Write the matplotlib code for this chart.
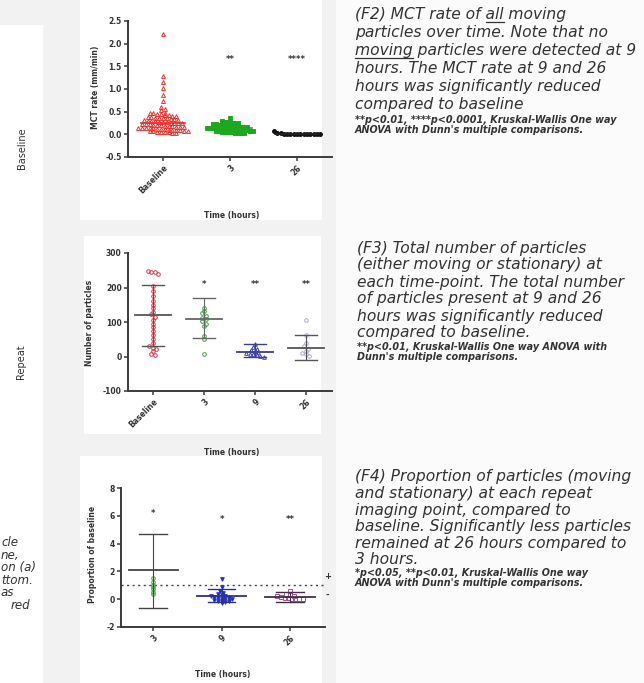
import matplotlib
matplotlib.use('Agg')
import matplotlib.pyplot as plt
import numpy as np
from matplotlib.patches import Rectangle
from matplotlib.lines import Line2D

# ---------------- data ----------------
top_cats = ['Baseline', '3', '26']
top_base = [2.22, 1.28, 1.15, 1.02, 0.87, 0.73, 0.60, 0.56, 0.53,
            0.48, 0.47, 0.46, 0.45, 0.44, 0.43, 0.42, 0.41, 0.40,
            0.39, 0.38, 0.37, 0.36, 0.35, 0.35, 0.34, 0.33, 0.32, 0.31, 0.30, 0.30,
            0.29, 0.28, 0.27, 0.27, 0.26, 0.25, 0.25, 0.24, 0.23, 0.22, 0.22, 0.21,
            0.20, 0.20, 0.19, 0.18, 0.18, 0.17, 0.16, 0.16, 0.15, 0.15, 0.14, 0.13,
            0.13, 0.12, 0.12, 0.11, 0.10, 0.10, 0.09, 0.09, 0.08, 0.08, 0.07, 0.07,
            0.06, 0.06, 0.05, 0.05, 0.04, 0.04]
top_3h = [0.36, 0.29, 0.28, 0.27, 0.26, 0.25, 0.24, 0.23, 0.22, 0.21, 0.21, 0.20,
          0.19, 0.19, 0.18, 0.17, 0.17, 0.16, 0.16, 0.15, 0.15, 0.14, 0.14, 0.13,
          0.13, 0.12, 0.12, 0.11, 0.11, 0.10, 0.10, 0.09, 0.09, 0.08, 0.08, 0.07,
          0.07, 0.06, 0.06, 0.05, 0.05, 0.04, 0.04, 0.03, 0.03]
top_26h = [0.07, 0.02, 0.02, 0.01, 0.01, 0.01, 0.01, 0.0, 0.0, 0.0, 0.0, 0.0,
           0.0, 0.0, 0.0]
top_means = [0.26, 0.15, 0.01]
top_stars = ['', '**', '****']
top_star_y = 1.65
top_yticks = [-0.5, 0.0, 0.5, 1.0, 1.5, 2.0, 2.5]

mid_cats = ['Baseline', '3', '9', '26']
mid_base = [248, 246, 244, 240, 205, 190, 175, 160, 150, 140, 130, 122, 115,
            105, 95, 85, 75, 62, 50, 38, 30, 26, 22, 15, 8, 4]
mid_3h = [140, 132, 125, 118, 112, 108, 102, 95, 88, 60, 52, 8]
mid_9h = [36, 28, 22, 18, 15, 12, 10, 8, 6, 4, 2, 0]
mid_26h = [105, 62, 40, 30, 22, 15, 10, 6, 2]
mid_means = [121, 109, 13, 24]
mid_sd_hi = [208, 169, 37, 61]
mid_sd_lo = [31, 53, 0, -10]
mid_stars = ['', '*', '**', '**']
mid_star_y = 208
mid_yticks = [-100, 0, 100, 200, 300]

bot_cats = ['3', '9', '26']
bot_3h = [1.5, 1.25, 1.05, 0.9, 0.75, 0.55, 0.35]
bot_9h = [1.45, 0.9, 0.6, 0.45, 0.35, 0.3, 0.25, 0.2, 0.15, 0.1, 0.05, 0.0,
          -0.05, -0.1, -0.15, -0.2, -0.25, 0.1, 0.0, -0.1]
bot_26h = [0.6, 0.4, 0.3, 0.25, 0.2, 0.15, 0.1, 0.1, 0.05, 0.05, 0.0, 0.0]
bot_means = [2.1, 0.25, 0.15]
bot_sd_hi = [4.7, 0.75, 0.55]
bot_sd_lo = [-0.6, -0.2, -0.2]
bot_stars = ['*', '*', '**']
bot_star_y = [6.2, 5.7, 5.7]
bot_ref = 1.0
bot_yticks = [-2, 0, 2, 4, 6, 8]

f2_lines = ["(F2) MCT rate of all moving",
            "particles over time. Note that no",
            "moving particles were detected at 9",
            "hours. The MCT rate at 9 and 26",
            "hours was significantly reduced",
            "compared to baseline"]
f2_foot = ["**p<0.01, ****p<0.0001, Kruskal-Wallis One way",
           "ANOVA with Dunn's multiple comparisons."]
f3_lines = ["(F3) Total number of particles",
            "(either moving or stationary) at",
            "each time-point. The total number",
            "of particles present at 9 and 26",
            "hours was significantly reduced",
            "compared to baseline."]
f3_foot = ["**p<0.01, Kruskal-Wallis One way ANOVA with",
           "Dunn's multiple comparisons."]
f4_lines = ["(F4) Proportion of particles (moving",
            "and stationary) at each repeat",
            "imaging point, compared to",
            "baseline. Significantly less particles",
            "remained at 26 hours compared to",
            "3 hours."]
f4_foot = ["*p<0.05, **p<0.01, Kruskal-Wallis One way",
           "ANOVA with Dunn's multiple comparisons."]
left_frags = ["cle", "ne,", "on (a)", "ttom.", "as", "red"]

# ---------------- figure ----------------
W, H = 644, 683
fig = plt.figure(figsize=(W / 100, H / 100), dpi=100)
fig.patch.set_facecolor('#f2f2f2')


def fx(px):
    return px / W


def fy(py):
    return 1 - py / H


def rect(x0, y0, x1, y1, color):
    fig.patches.append(Rectangle((fx(x0), fy(y1)), fx(x1) - fx(x0), fy(y0) - fy(y1),
                                 transform=fig.transFigure, facecolor=color,
                                 edgecolor='none', zorder=-10))


rect(0, 25, 43, 683, 'white')
rect(80, 0, 322, 220, 'white')
rect(84, 236, 321, 434, 'white')
rect(80, 456, 322, 683, 'white')
rect(336, 0, 644, 683, '#fbfbfb')

TXT = '#333333'
AX = '#3a3a3a'


def make_ax(left, top, right, bottom):
    ax = fig.add_axes([fx(left), fy(bottom), fx(right) - fx(left), fy(top) - fy(bottom)])
    ax.set_facecolor('none')
    for s in ['top', 'right']:
        ax.spines[s].set_visible(False)
    for s in ['left', 'bottom']:
        ax.spines[s].set_color(AX)
        ax.spines[s].set_linewidth(1.4)
    ax.tick_params(axis='both', colors=AX, width=1.1, length=3, labelsize=5.5,
                   labelcolor=TXT, pad=1.5)
    return ax


def swarm_x(vals, center, px_x, px_y, row_px, col_px):
    vals = np.asarray(vals, float)
    rows = np.floor(vals * px_y / row_px)
    xs = np.full(len(vals), float(center))
    for r in np.unique(rows):
        idx = np.where(rows == r)[0]
        n = len(idx)
        offs = np.arange(n) - (n - 1) / 2
        xs[idx] = center + offs * col_px / px_x
    return xs


def style_ticks(ax, cats, yticks, fmt):
    ax.set_xticks(range(len(cats)))
    ax.set_xticklabels(cats, rotation=45, ha='right', rotation_mode='anchor',
                       fontsize=5.5, fontweight='bold', color=TXT)
    ax.set_yticks(yticks)
    ax.set_yticklabels([fmt(v) for v in yticks], fontsize=5.5, fontweight='bold', color=TXT)


def mean_sd(ax, x, m, lo, hi, wm, wc, color, lw=1.3):
    ax.plot([x - wm, x + wm], [m, m], color=color, lw=lw, zorder=4)
    if lo is not None:
        ax.plot([x, x], [lo, hi], color=color, lw=0.8, zorder=4)
        ax.plot([x - wc, x + wc], [lo, lo], color=color, lw=1.0, zorder=4)
        ax.plot([x - wc, x + wc], [hi, hi], color=color, lw=1.0, zorder=4)


# ---------- top plot ----------
ax1 = make_ax(128, 21, 332, 157)
ax1.set_ylim(-0.5, 2.5)
ax1.set_xlim(-0.52, 2.52)
px_x1, px_y1 = 67.0, 45.3
top_groups = [top_base, top_3h, top_26h]
top_cols = ['#e8302c', '#1fa81f', '#111111']
top_mk = ['^', 's', 'o']
top_colpx = [3.8, 3.0, 3.3]
for i, (vals, c, mk) in enumerate(zip(top_groups, top_cols, top_mk)):
    xs = swarm_x(vals, i, px_x1, px_y1, 3.6, top_colpx[i])
    ax1.plot(xs, vals, linestyle='none', marker=mk, ms=2.8, mfc='none' if i == 0 else c,
             mec=c, mew=0.7, zorder=3)
    mean_sd(ax1, i, top_means[i], None, None, 0.33, 0, '#222222' if i == 2 else c, lw=1.2)
    if top_stars[i]:
        ax1.text(i, top_star_y, top_stars[i], ha='center', va='center', fontsize=6,
                 fontweight='bold', color=TXT)
style_ticks(ax1, top_cats, top_yticks, lambda v: f"{v:.1f}")
ax1.set_ylabel('MCT rate (mm/min)', fontsize=5.5, fontweight='bold', color=TXT)
ax1.yaxis.set_label_coords(-0.137, 0.51)
ax1.set_xlabel('Time (hours)', fontsize=5.5, fontweight='bold', color=TXT)
ax1.xaxis.set_label_coords(0.51, -0.40)

# ---------- middle plot ----------
ax2 = make_ax(128, 253, 332, 391)
ax2.set_ylim(-100, 300)
ax2.set_xlim(-0.49, 3.51)
px_x2, px_y2 = 51.0, 0.345
mid_groups = [mid_base, mid_3h, mid_9h, mid_26h]
mid_cols = ['#d83a4a', '#3aa040', '#3a3fb5', '#b5aacb']
mid_line_cols = ['#555555', '#666666', '#3a3f90', '#555555']
mid_mk = ['o', 'o', '^', 'o']
for i, (vals, c, mk) in enumerate(zip(mid_groups, mid_cols, mid_mk)):
    xs = swarm_x(vals, i, px_x2, px_y2, 3.6, 3.5)
    ax2.plot(xs, vals, linestyle='none', marker=mk, ms=2.6, mfc='none', mec=c,
             mew=0.7, zorder=3)
    mean_sd(ax2, i, mid_means[i], mid_sd_lo[i], mid_sd_hi[i], 0.36, 0.22,
            mid_line_cols[i])
    if mid_stars[i]:
        ax2.text(i, mid_star_y, mid_stars[i], ha='center', va='center', fontsize=6,
                 fontweight='bold', color=TXT)
style_ticks(ax2, mid_cats, mid_yticks, lambda v: f"{v:d}")
ax2.set_ylabel('Number of particles', fontsize=5.5, fontweight='bold', color=TXT)
ax2.yaxis.set_label_coords(-0.167, 0.49)
ax2.set_xlabel('Time (hours)', fontsize=5.5, fontweight='bold', color=TXT)
ax2.xaxis.set_label_coords(0.51, -0.41)

# ---------- bottom plot ----------
ax3 = make_ax(121, 488, 325, 627)
ax3.set_ylim(-2, 8)
ax3.set_xlim(-0.47, 2.51)
px_x3, px_y3 = 68.5, 13.9
bot_groups = [bot_3h, bot_9h, bot_26h]
bot_cols = ['#4aa04a', '#2530c0', '#9a5a8c']
bot_line_cols = ['#444444', '#2a3090', '#4a2a4a']
bot_mk = ['o', 'v', 's']
for i, (vals, c, mk) in enumerate(zip(bot_groups, bot_cols, bot_mk)):
    xs = swarm_x(vals, i, px_x3, px_y3, 2.8, 3.6)
    ax3.plot(xs, vals, linestyle='none', marker=mk, ms=2.6, mfc=c if i == 1 else 'none',
             mec=c, mew=0.7, zorder=3)
    mean_sd(ax3, i, bot_means[i], bot_sd_lo[i], bot_sd_hi[i], 0.36, 0.2,
            bot_line_cols[i])
    ax3.text(i, bot_star_y[i], bot_stars[i], ha='center', va='center', fontsize=6,
             fontweight='bold', color=TXT)
ax3.axhline(bot_ref, color='#444444', lw=1.0, ls=(0, (1.5, 2.5)), zorder=2)
ax3.text(2.55, 1.6, '+', ha='center', va='center', fontsize=6, fontweight='bold', color=TXT,
         clip_on=False)
ax3.text(2.55, 0.3, '-', ha='center', va='center', fontsize=6, fontweight='bold', color=TXT,
         clip_on=False)
style_ticks(ax3, bot_cats, bot_yticks, lambda v: f"{v:d}")
ax3.set_ylabel('Proportion of baseline', fontsize=5.5, fontweight='bold', color=TXT)
ax3.yaxis.set_label_coords(-0.118, 0.52)
ax3.set_xlabel('Time (hours)', fontsize=5.5, fontweight='bold', color=TXT)
ax3.xaxis.set_label_coords(0.50, -0.31)

# ---------- left labels ----------
fig.text(fx(22), fy(148), 'Baseline', rotation=90, ha='center', va='center',
         fontsize=7, color=TXT)
fig.text(fx(21), fy(362), 'Repeat', rotation=90, ha='center', va='center',
         fontsize=7, color=TXT)
left_x = [1, 1, 1, 1, 1, 11]
left_y = [543, 555.5, 568, 580.5, 593, 605.5]
for s, xx, yy in zip(left_frags, left_x, left_y):
    fig.text(fx(xx), fy(yy), s, ha='left', va='center', fontsize=8.6,
             style='italic', color=TXT)

# ---------- right text blocks ----------
renderer = fig.canvas.get_renderer()


def text_width(s, **kw):
    t = fig.text(0, 0, s, **kw)
    w = t.get_window_extent(renderer).width
    t.remove()
    return w


MAIN_FS = 11.2
FOOT_FS = 6.9


def block(x, y0, lines, foot, step, foot_y0, foot_step, underl=()):
    kw = dict(fontsize=MAIN_FS, style='italic', color=TXT)
    for k, ln in enumerate(lines):
        y = y0 + k * step
        fig.text(fx(x), fy(y), ln, ha='left', va='center', **kw)
        for (li, word) in underl:
            if li == k:
                full = ln[:ln.index(word) + len(word)]
                w_full = text_width(full, **kw)
                w_word = text_width(word, **kw)
                x1 = x + w_full
                x0 = x1 - w_word
                yy = y + 7.5
                fig.add_artist(Line2D([fx(x0), fx(x1)], [fy(yy), fy(yy)],
                                      transform=fig.transFigure, color=TXT, lw=0.9))
    for k, ln in enumerate(foot):
        fig.text(fx(x), fy(foot_y0 + k * foot_step), ln, ha='left', va='center',
                 fontsize=FOOT_FS, style='italic', fontweight='bold', color=TXT)


block(355, 14, f2_lines, f2_foot, 18.2, 120, 10, underl=[(0, 'all'), (2, 'moving')])
block(357, 248, f3_lines, f3_foot, 17.0, 347, 10.5)
block(355, 477, f4_lines, f4_foot, 16.6, 573, 10.5)

fig.savefig('out.png', dpi=100, facecolor=fig.get_facecolor())
